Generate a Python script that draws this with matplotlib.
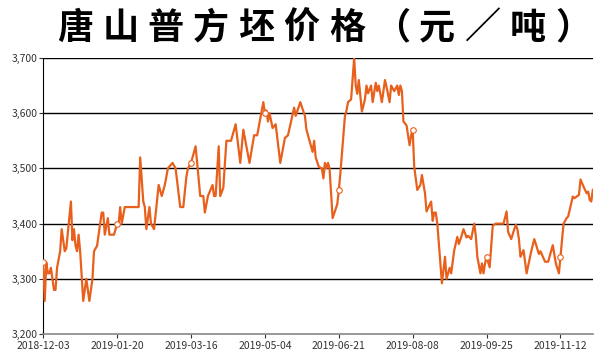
import numpy as np
import pandas as pd
import matplotlib as mpl
mpl.use('Agg')
import matplotlib.pyplot as plt
from matplotlib.ticker import FuncFormatter

plt.rcParams['font.family'] = ['Noto Sans CJK SC', 'DejaVu Sans']

title = '唐山普方坯价格（元／吨）'

# days without a quote (spring festival, qingming)
holidays = ['2019-02-04', '2019-02-05', '2019-02-06', '2019-02-07',
            '2019-02-08', '2019-02-09', '2019-02-10', '2019-04-05']

# price readings, yuan/ton
dates = [
    '2018-12-03', '2018-12-04', '2018-12-05', '2018-12-06', '2018-12-07', '2018-12-08',
    '2018-12-10', '2018-12-11', '2018-12-12', '2018-12-14', '2018-12-15', '2018-12-17',
    '2018-12-18', '2018-12-21', '2018-12-22', '2018-12-23', '2018-12-24', '2018-12-25',
    '2018-12-26', '2018-12-27', '2018-12-29', '2018-12-31', '2019-01-02', '2019-01-04',
    '2019-01-05', '2019-01-07', '2019-01-09', '2019-01-10', '2019-01-11', '2019-01-12',
    '2019-01-14', '2019-01-15', '2019-01-18', '2019-01-20', '2019-01-21', '2019-01-22',
    '2019-01-23', '2019-01-25', '2019-02-03', '2019-02-11', '2019-02-12', '2019-02-13',
    '2019-02-14', '2019-02-15', '2019-02-17', '2019-02-18', '2019-02-20', '2019-02-23',
    '2019-02-25', '2019-02-27', '2019-03-01', '2019-03-04', '2019-03-06', '2019-03-09',
    '2019-03-11', '2019-03-13', '2019-03-14', '2019-03-16', '2019-03-19', '2019-03-22',
    '2019-03-24', '2019-03-25', '2019-03-27', '2019-03-30', '2019-03-31', '2019-04-01',
    '2019-04-03', '2019-04-04', '2019-04-07', '2019-04-09', '2019-04-12', '2019-04-15',
    '2019-04-18', '2019-04-20', '2019-04-24', '2019-04-27', '2019-04-29', '2019-05-03',
    '2019-05-04', '2019-05-05', '2019-05-06', '2019-05-07', '2019-05-09', '2019-05-11',
    '2019-05-14', '2019-05-17', '2019-05-19', '2019-05-23', '2019-05-24', '2019-05-27',
    '2019-05-30', '2019-05-31', '2019-06-01', '2019-06-04', '2019-06-05', '2019-06-06',
    '2019-06-08', '2019-06-10', '2019-06-11', '2019-06-12', '2019-06-13', '2019-06-14',
    '2019-06-15', '2019-06-17', '2019-06-20', '2019-06-21', '2019-06-22', '2019-06-25',
    '2019-06-26', '2019-06-27', '2019-06-29', '2019-07-01', '2019-07-02', '2019-07-03',
    '2019-07-04', '2019-07-06', '2019-07-08', '2019-07-09', '2019-07-10', '2019-07-12',
    '2019-07-13', '2019-07-15', '2019-07-16', '2019-07-17', '2019-07-19', '2019-07-21',
    '2019-07-22', '2019-07-24', '2019-07-25', '2019-07-27', '2019-07-29', '2019-07-30',
    '2019-07-31', '2019-08-01', '2019-08-02', '2019-08-04', '2019-08-06', '2019-08-07',
    '2019-08-08', '2019-08-09', '2019-08-11', '2019-08-13', '2019-08-14', '2019-08-16',
    '2019-08-17', '2019-08-20', '2019-08-21', '2019-08-22', '2019-08-23', '2019-08-24',
    '2019-08-26', '2019-08-27', '2019-08-29', '2019-08-30', '2019-09-01', '2019-09-02',
    '2019-09-04', '2019-09-06', '2019-09-07', '2019-09-09', '2019-09-10', '2019-09-12',
    '2019-09-13', '2019-09-15', '2019-09-17', '2019-09-18', '2019-09-19', '2019-09-21',
    '2019-09-22', '2019-09-23', '2019-09-24', '2019-09-25', '2019-09-27', '2019-09-29',
    '2019-10-01', '2019-10-06', '2019-10-08', '2019-10-09', '2019-10-11', '2019-10-13',
    '2019-10-14', '2019-10-15', '2019-10-16', '2019-10-17', '2019-10-19', '2019-10-21',
    '2019-10-24', '2019-10-26', '2019-10-29', '2019-10-30', '2019-11-02', '2019-11-04',
    '2019-11-07', '2019-11-09', '2019-11-11', '2019-11-12', '2019-11-14', '2019-11-16',
    '2019-11-17', '2019-11-20', '2019-11-21', '2019-11-24', '2019-11-25', '2019-11-27',
    '2019-11-29', '2019-11-30', '2019-12-01', '2019-12-02', '2019-12-03',
]
prices = [
    3330, 3260, 3330, 3310, 3310, 3320,
    3280, 3280, 3320, 3350, 3390, 3350,
    3355, 3440, 3370, 3390, 3360, 3350,
    3380, 3350, 3260, 3300, 3260, 3300,
    3350, 3360, 3400, 3420, 3420, 3380,
    3410, 3380, 3380, 3400, 3400, 3430,
    3400, 3430, 3430, 3520, 3480, 3440,
    3430, 3390, 3430, 3400, 3390, 3470,
    3450, 3470, 3500, 3510, 3500, 3430,
    3430, 3485, 3500, 3510, 3540, 3450,
    3450, 3420, 3450, 3470, 3450, 3450,
    3540, 3450, 3465, 3550, 3550, 3580,
    3510, 3570, 3510, 3560, 3560, 3620,
    3600, 3605, 3585, 3600, 3573, 3580,
    3510, 3555, 3560, 3610, 3595, 3620,
    3595, 3570, 3560, 3530, 3550, 3520,
    3503, 3500, 3482, 3510, 3500, 3510,
    3500, 3410, 3435, 3460, 3490, 3595,
    3605, 3620, 3625, 3700, 3650, 3635,
    3660, 3603, 3625, 3650, 3636, 3650,
    3620, 3655, 3640, 3650, 3620, 3660,
    3648, 3620, 3650, 3640, 3650, 3633,
    3650, 3640, 3585, 3578, 3542, 3560,
    3570, 3503, 3461, 3470, 3488, 3455,
    3422, 3440, 3405, 3420, 3420, 3400,
    3328, 3292, 3340, 3300, 3320, 3310,
    3352, 3376, 3363, 3380, 3390, 3375,
    3378, 3372, 3400, 3378, 3340, 3310,
    3328, 3310, 3328, 3340, 3321, 3396,
    3400, 3400, 3422, 3385, 3372, 3390,
    3398, 3390, 3372, 3340, 3352, 3310,
    3350, 3372, 3345, 3350, 3331, 3331,
    3361, 3328, 3310, 3340, 3400, 3410,
    3413, 3449, 3446, 3452, 3480, 3467,
    3455, 3458, 3443, 3440, 3461,
]

# quote days: category axis, one slot per day
days = pd.date_range(dates[0], dates[-1])
days = days[~days.isin(pd.to_datetime(holidays))]
pos = days.get_indexer(pd.to_datetime(dates))
step = 48
marks = [i for i, p in enumerate(pos) if p % step == 0]

fig = plt.figure(figsize=(6, 3.6), dpi=100)
ax = fig.add_axes([0.072, 0.072, 0.916, 0.767])

for v in range(3300, 3701, 100):
    ax.axhline(v, color='black', lw=1.0, zorder=1)

ax.plot(pos, prices, color='#E8601C', lw=1.6, zorder=3,
        marker='o', markevery=marks, markersize=4,
        markerfacecolor='white', markeredgecolor='#E8601C', markeredgewidth=0.8)

ax.set_xlim(0, len(days) - 1)
ax.set_ylim(3200, 3700)
ax.set_yticks(range(3200, 3701, 100))
ax.yaxis.set_major_formatter(FuncFormatter(lambda v, _: f'{int(v):,}'))
ticks = list(range(0, len(days), step))
ax.set_xticks(ticks)
ax.set_xticklabels([days[t].strftime('%Y-%m-%d') for t in ticks])

for s in ['top', 'right']:
    ax.spines[s].set_visible(False)
ax.spines['left'].set_color('black')
ax.spines['bottom'].set_color('#888888')
ax.spines['bottom'].set_linewidth(1.2)
ax.tick_params(axis='y', length=3, labelsize=7.5, colors='#333333', pad=1)
ax.tick_params(axis='x', length=3, labelsize=7.5, colors='#333333', pad=2)

# title set wide, one character per cell like the original
for k, ch in enumerate(title):
    fig.text(0.125 + k * 0.0755, 0.922, ch, ha='center', va='center',
             fontsize=26, fontweight='heavy', color='black')

fig.savefig('out.png', dpi=100)
